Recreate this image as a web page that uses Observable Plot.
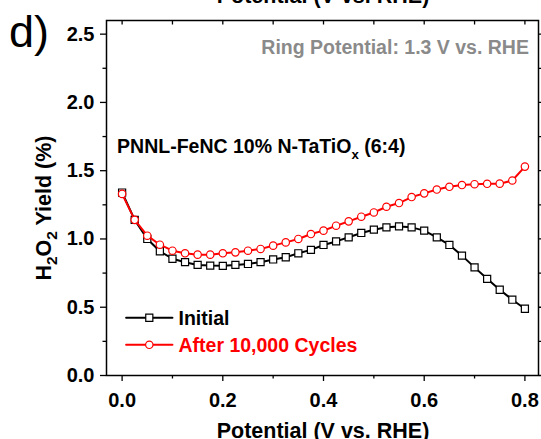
<!DOCTYPE html>
<html><head><meta charset="utf-8">
<script src="https://cdn.jsdelivr.net/npm/d3@7"></script>
<script src="https://cdn.jsdelivr.net/npm/@observablehq/plot@0.6"></script>
<style>
html,body{margin:0;padding:0;background:#fff;}
#chart{width:541px;height:439px;overflow:hidden;position:relative;}
svg{display:block;}
</style></head><body><div id="chart"></div>
<script>
// ---- data ----
const potential = [0.000,0.025,0.050,0.075,0.100,0.125,0.150,0.175,0.200,0.225,0.250,0.275,0.300,0.325,0.350,0.375,0.400,0.425,0.450,0.475,0.500,0.525,0.550,0.575,0.600,0.625,0.650,0.675,0.700,0.725,0.750,0.775,0.800];
const initialYield = [1.34,1.14,1.00,0.91,0.855,0.83,0.81,0.805,0.803,0.81,0.817,0.83,0.85,0.866,0.895,0.92,0.956,0.982,1.012,1.044,1.068,1.085,1.092,1.085,1.061,1.012,0.956,0.878,0.792,0.708,0.628,0.555,0.489];
const afterYield = [1.33,1.14,1.024,0.958,0.914,0.895,0.885,0.885,0.895,0.902,0.914,0.927,0.951,0.975,1.00,1.036,1.061,1.097,1.129,1.163,1.194,1.236,1.263,1.307,1.334,1.362,1.382,1.395,1.401,1.404,1.405,1.428,1.53];
const seriesNames = ["Initial", "After 10,000 Cycles"];
const seriesColors = ["#000000", "#ff0000"];
const seriesSymbols = ["square", "circle"];
const xMajorTicks = [0, 0.2, 0.4, 0.6, 0.8];
const xMinorTicks = [0.1, 0.3, 0.5, 0.7];
const yMajorTicks = [0, 0.5, 1.0, 1.5, 2.0, 2.5];
const yMinorTicks = [0.25, 0.75, 1.25, 1.75, 2.25];
const xTitle = "Potential (V vs. RHE)";
const yTitleParts = [["H", false], ["2", true], ["O", false], ["2", true], [" Yield (%)", false]];
const ringNote = "Ring Potential: 1.3 V vs. RHE";
const sampleParts = [["PNNL-FeNC 10% N-TaTiO", false], ["x", true], [" (6:4)", false]];
const panelLabel = "d)";

// ---- layout ----
const FONT = '"Liberation Sans", Arial, Helvetica, sans-serif';
const W = 541, H = 439;
const rowsInitial = potential.map((p, i) => ({p, v: initialYield[i]}));
const rowsAfter = potential.map((p, i) => ({p, v: afterYield[i]}));
const seriesRows = [rowsInitial, rowsAfter];

const LEG_X0 = 0.008, LEG_X1 = 0.100, LEG_XM = 0.054, LEG_XT = 0.112;
const LEG_Y = [0.423, 0.225];
const blank = () => "";

const marks = [
  Plot.frame({stroke: "black", strokeWidth: 1.5}),
  Plot.axisX({ticks: xMajorTicks, tickSize: 6, tickPadding: 11.5, tickFormat: d3.format(".1f"), label: null, fontSize: 20, fontWeight: "bold", strokeWidth: 1.3}),
  Plot.axisX({ticks: xMinorTicks, tickSize: 3.5, tickFormat: blank, label: null, strokeWidth: 1.3}),
  Plot.axisX({anchor: "top", ticks: [...xMajorTicks, ...xMinorTicks], tickSize: -3.5, tickFormat: blank, label: null, strokeWidth: 1.3}),
  Plot.axisY({ticks: yMajorTicks, tickSize: 6, tickPadding: 6, tickFormat: d3.format(".1f"), label: null, fontSize: 20, fontWeight: "bold", strokeWidth: 1.3}),
  Plot.axisY({ticks: yMinorTicks, tickSize: 3.5, tickFormat: blank, label: null, strokeWidth: 1.3}),
  Plot.axisY({anchor: "right", ticks: [...yMajorTicks, ...yMinorTicks], tickSize: 3.5, tickFormat: blank, label: null, strokeWidth: 1.3})
];

seriesRows.forEach((rows, i) => {
  marks.push(Plot.line(rows, {x: "p", y: "v", stroke: seriesColors[i], strokeWidth: 2}));
  marks.push(Plot.dot(rows, {x: "p", y: "v", symbol: seriesSymbols[i], r: i === 0 ? 4 : 3.7, fill: "white", stroke: seriesColors[i], strokeWidth: 1.2}));
});

seriesNames.forEach((name, i) => {
  const seg = [{x: LEG_X0, y: LEG_Y[i]}, {x: LEG_X1, y: LEG_Y[i]}];
  marks.push(Plot.line(seg, {x: "x", y: "y", stroke: seriesColors[i], strokeWidth: 2}));
  marks.push(Plot.dot([{x: LEG_XM, y: LEG_Y[i]}], {x: "x", y: "y", symbol: seriesSymbols[i], r: i === 0 ? 4 : 3.7, fill: "white", stroke: seriesColors[i], strokeWidth: 1.2}));
  marks.push(Plot.text([name], {x: LEG_XT, y: LEG_Y[i], text: d => d, textAnchor: "start", dy: 1, fill: seriesColors[i], fontSize: 19.5, fontWeight: "bold"}));
});

marks.push(Plot.text([ringNote], {x: 0.808, y: 2.402, text: d => d, textAnchor: "end", fill: "#8a8a8a", fontSize: 19.5, fontWeight: "bold"}));

const chart = Plot.plot({
  width: W, height: H,
  marginLeft: 106, marginRight: 3, marginTop: 20, marginBottom: 64,
  x: {domain: [-0.031, 0.827]},
  y: {domain: [0, 2.6]},
  style: {fontFamily: FONT, fontWeight: "bold", fontSize: "20px", color: "black", background: "white", overflow: "visible"},
  marks
});
document.getElementById("chart").appendChild(chart);

// ---- annotations with sub-scripts ----
const svg = d3.select(chart);
const sx = chart.scale("x"), sy = chart.scale("y");

function richText(g, parts, size, subScale) {
  let shifted = false;
  parts.forEach(([t, sub]) => {
    const ts = g.append("tspan").text(t);
    if (sub && !shifted) { ts.attr("dy", size * 0.3).attr("font-size", size * subScale); shifted = true; }
    else if (!sub && shifted) { ts.attr("dy", -size * 0.3); shifted = false; }
  });
}

// sample name
const sample = svg.append("text")
  .attr("x", sx.apply(-0.009)).attr("y", sy.apply(1.626))
  .attr("text-anchor", "start")
  .attr("font-family", FONT).attr("font-weight", "bold").attr("font-size", 19.5).attr("fill", "black");
richText(sample, sampleParts, 19.5, 0.68);

// y title
const yT = svg.append("text")
  .attr("transform", `translate(51,208) rotate(-90)`)
  .attr("text-anchor", "middle")
  .attr("font-family", FONT).attr("font-weight", "bold").attr("font-size", 21.5).attr("fill", "black");
richText(yT, yTitleParts, 21.5, 0.72);

// x title
svg.append("text")
  .attr("x", sx.apply(0.4)).attr("y", 437.5)
  .attr("text-anchor", "middle")
  .attr("font-family", FONT).attr("font-weight", "bold").attr("font-size", 21.5).attr("fill", "black")
  .text(xTitle);

// cropped title of the panel above
svg.append("text")
  .attr("x", sx.apply(0.4)).attr("y", 2.7)
  .attr("text-anchor", "middle")
  .attr("font-family", FONT).attr("font-weight", "bold").attr("font-size", 21.5).attr("fill", "black")
  .text(xTitle);

// panel label
svg.append("text")
  .attr("x", 9).attr("y", 47)
  .attr("text-anchor", "start")
  .attr("font-family", FONT).attr("font-weight", "normal").attr("font-size", 45).attr("fill", "black")
  .text(panelLabel);
</script>
</body></html>
